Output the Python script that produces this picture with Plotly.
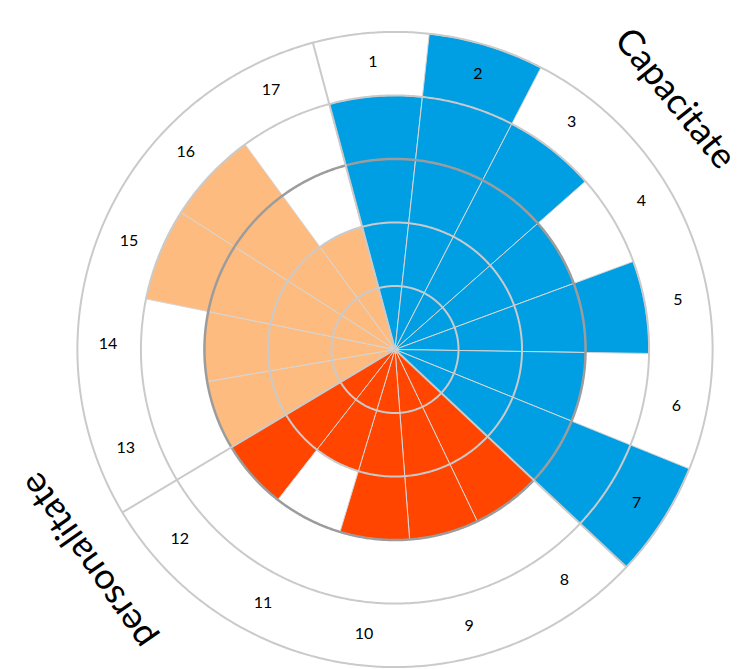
import numpy as np
import plotly.graph_objects as go

# ---- data ----
categories = [str(i) for i in range(1, 18)]
values = [4, 5, 4, 3, 4, 3, 5, 3, 3, 3, 2, 3, 3, 3, 4, 4, 2]
group_of = [0] * 7 + [1] * 5 + [2] * 5
group_colors = ["#009FE3", "#FF4500", "#FDBB80"]
ring_levels = [1, 2, 3, 4, 5]
title_top = "Capacitate"
title_bottom = "personalitate"

# ---- layout helpers ----
W, H = 752, 669
OFF = 8                      # page body margin in the browser
ML, MR, MT, MB = 67, 45, 22, 8
PX0, PY0 = OFF + ML, OFF + MT            # plot area top-left in window pixels
PW, PH = W - ML - MR, H - MT - MB
n = len(categories)
step = 360.0 / n
theta = [i * step for i in range(n)]


def px_to_paper(x, y):
    return (x - PX0) / PW, (PY0 + PH - y) / PH


fig = go.Figure()

# bars, one trace per group
for g, col in enumerate(group_colors):
    idx = [i for i in range(n) if group_of[i] == g]
    fig.add_trace(go.Barpolar(
        r=[values[i] for i in idx],
        theta=[theta[i] for i in idx],
        width=[step] * len(idx),
        marker=dict(color=col, line=dict(color="#d6d6d6", width=1)),
        hoverinfo="skip",
        showlegend=False,
    ))

# ring gridlines drawn above the bars
circ = np.linspace(0, 360, 721)
for lvl in ring_levels:
    dark = (lvl == 3)
    fig.add_trace(go.Scatterpolar(
        r=[lvl] * len(circ), theta=circ, mode="lines",
        line=dict(color="#9c9c9c" if dark else "#cacaca", width=2.5 if dark else 2),
        hoverinfo="skip", showlegend=False,
    ))

# separators between the groups
for k in range(n):
    if k == 0 or group_of[k] != group_of[k - 1]:
        b = theta[k] - step / 2
        fig.add_trace(go.Scatterpolar(
            r=[0, ring_levels[-1]], theta=[b, b], mode="lines",
            line=dict(color="#cacaca", width=2),
            hoverinfo="skip", showlegend=False,
        ))

# category labels in the outer ring
fig.add_trace(go.Scatterpolar(
    r=[4.52] * n, theta=theta, mode="text", text=categories,
    textfont=dict(size=16, color="black", family="Lato"),
    hoverinfo="skip", showlegend=False,
))

ax1, ay1 = px_to_paper(677, 97)
ax2, ay2 = px_to_paper(86, 562)

fig.update_layout(
    width=W, height=H,
    margin=dict(l=ML, r=MR, t=MT, b=MB),
    paper_bgcolor="white",
    plot_bgcolor="white",
    polar=dict(
        bgcolor="white",
        bargap=0,
        angularaxis=dict(rotation=94.4, direction="clockwise", showgrid=False,
                         showticklabels=False, ticks="", showline=False),
        radialaxis=dict(range=[0, 5.03], showgrid=False, showticklabels=False,
                        ticks="", showline=False),
    ),
    annotations=[
        dict(text=title_top, x=ax1, y=ay1, xref="paper", yref="paper",
             showarrow=False, textangle=51, xanchor="center", yanchor="middle",
             font=dict(size=36, color="black", family="Lato")),
        dict(text=title_bottom, x=ax2, y=ay2, xref="paper", yref="paper",
             showarrow=False, textangle=-125, xanchor="center", yanchor="middle",
             font=dict(size=36, color="black", family="Lato")),
    ],
)

fig.write_html("out.html")
